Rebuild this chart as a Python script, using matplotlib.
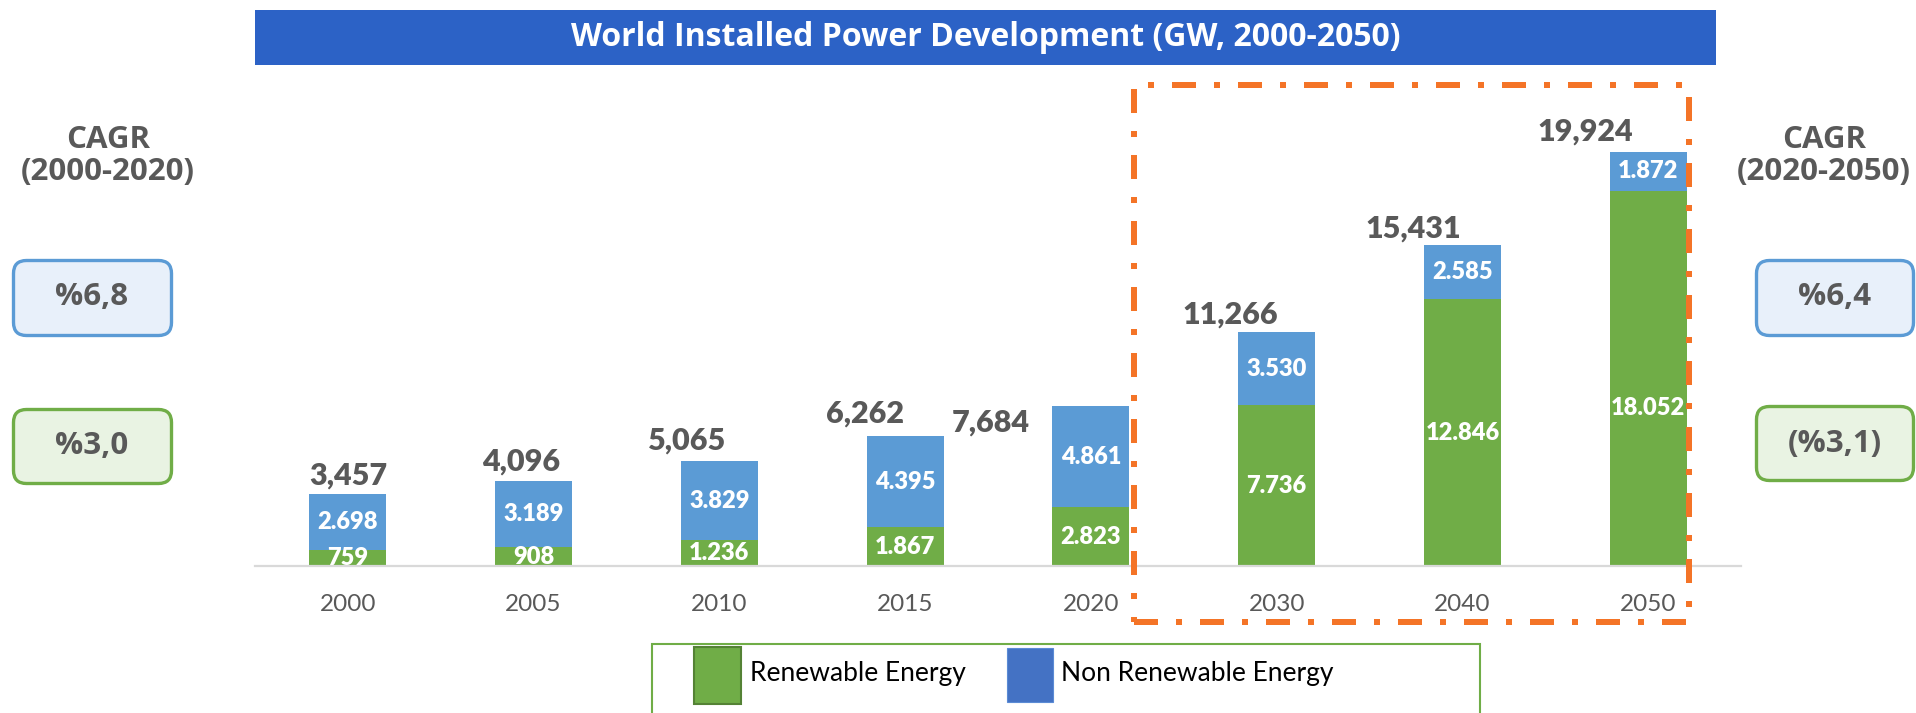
import matplotlib
matplotlib.use('Agg')
import matplotlib.pyplot as plt
from matplotlib.patches import Rectangle, FancyBboxPatch
from matplotlib.lines import Line2D

# ---------------- data ----------------
years = ['2000', '2005', '2010', '2015', '2020', '2030', '2040', '2050']
renewable = [759, 908, 1236, 1867, 2823, 7736, 12846, 18052]
non_renewable = [2698, 3189, 3829, 4395, 4861, 3530, 2585, 1872]
totals = [3457, 4096, 5065, 6262, 7684, 11266, 15431, 19924]
title = 'World Installed Power Development (GW, 2000-2050)'
cagr_left_title = 'CAGR\n(2000-2020)'
cagr_right_title = 'CAGR\n(2020-2050)'
cagr_left = ['%6,8', '%3,0']
cagr_right = ['%6,4', '(%3,1)']
legend_labels = ['Renewable Energy', 'Non Renewable Energy']

# ---------------- style / layout ----------------
GREEN = '#70AD47'
BLUE = '#5B9BD5'
LEG_BLUE = '#4472C4'
GRAY = '#595959'
ORANGE = '#F47427'
TITLE_BG = '#2C62C6'

# manual label offsets (pixels) for the total labels
total_dx = [0, -13, -32, -40, -100, -46, -49, -63]
total_dy = [19, 19, 20, 22, -16, 17, 17, 20]
green_dy = [0, 0, 0, 0, 0, 0, 0, -30]

W, H = 1916, 713
fig = plt.figure(figsize=(W / 100, H / 100), dpi=100)

ax = fig.add_axes([255 / W, (H - 566) / H, (1741 - 255) / W, 466 / H])
xs = list(range(len(years)))
bw = 0.415
ax.bar(xs, renewable, bw, color=GREEN, zorder=2)
ax.bar(xs, non_renewable, bw, bottom=renewable, color=BLUE, zorder=2)
ax.set_xlim(-0.5, 7.5)
ax.set_ylim(0, 22427)
ax.axhline(0, color='#D9D9D9', lw=1.6, zorder=3, clip_on=False)
for s in ax.spines.values():
    s.set_visible(False)
ax.set_yticks([])
ax.set_xticks(xs)
ax.set_xticklabels(years, fontfamily='Lato', fontsize=17.5, color=GRAY)
ax.tick_params(axis='x', length=0, pad=20)

def dotfmt(v):
    return f'{v:,}'.replace(',', '.')

for i in xs:
    r = renewable[i]
    n = non_renewable[i]
    ax.annotate(dotfmt(r), xy=(i, r / 2), xytext=(0, green_dy[i]),
                textcoords='offset pixels', ha='center', va='center',
                color='white', fontfamily='Lato', fontweight='heavy',
                fontsize=17, zorder=4, annotation_clip=False, clip_on=True)
    ax.annotate(dotfmt(n), xy=(i, r + n / 2), ha='center', va='center',
                color='white', fontfamily='Lato', fontweight='heavy',
                fontsize=17, zorder=4)
    ax.annotate(f'{totals[i]:,}', xy=(i, totals[i]),
                xytext=(total_dx[i], total_dy[i]), textcoords='offset pixels',
                ha='center', va='center', color=GRAY, fontfamily='Lato',
                fontweight='heavy', fontsize=22, zorder=4, annotation_clip=False)

# ---------------- overlay in pixel coordinates ----------------
ov = fig.add_axes([0, 0, 1, 1], zorder=5)
ov.set_xlim(0, W)
ov.set_ylim(H, 0)
ov.axis('off')
ov.patch.set_alpha(0)

# title bar
ov.add_patch(Rectangle((255, 10), 1716 - 255, 55, color=TITLE_BG, lw=0))
ov.text((255 + 1716) / 2, 38, title, ha='center', va='center', color='white',
        fontfamily='Open Sans', fontweight='bold', fontsize=23)

# CAGR titles
ov.text(108, 156, cagr_left_title, ha='center', va='center', color=GRAY,
        fontfamily='Open Sans', fontweight='bold', fontsize=22.5,
        linespacing=1.05)
ov.text(1824, 156, cagr_right_title, ha='center', va='center', color=GRAY,
        fontfamily='Open Sans', fontweight='bold', fontsize=22.5,
        linespacing=1.05)

# CAGR boxes
def cagr_box(x0, y0, w, h, edge, face, txt, tx, ty):
    ov.add_patch(FancyBboxPatch((x0, y0), w, h,
                                boxstyle='round,pad=0,rounding_size=13',
                                ec=edge, fc=face, lw=2.4))
    ov.text(tx, ty, txt, ha='center', va='center', color=GRAY,
            fontfamily='Open Sans', fontweight='bold', fontsize=22.5)

cagr_box(13.5, 260.5, 158, 75, BLUE, '#E8F0FA', cagr_left[0], 92, 297)
cagr_box(13.5, 409.5, 158, 74, GREEN, '#E9F3E3', cagr_left[1], 92, 446)
cagr_box(1756.5, 260.5, 157, 75, BLUE, '#E8F0FA', cagr_right[0], 1835, 297)
cagr_box(1756.5, 406.5, 157, 74, GREEN, '#E9F3E3', cagr_right[1], 1835, 444)

# orange dash-dot frame
lw_pt = 6 * 72 / 100
kw = dict(color=ORANGE, lw=lw_pt, solid_capstyle='butt', dash_capstyle='butt')
ov.add_line(Line2D([1148, 1690], [85, 85], dashes=(1, 3, 4, 3), **kw))
ov.add_line(Line2D([1134, 1134], [89, 622], dashes=(4, 3, 1, 3), **kw))
ov.add_line(Line2D([1689, 1689], [97, 622], dashes=(4, 3, 1, 3), **kw))
ov.add_line(Line2D([1134, 1690], [622, 622], dashes=(4, 3, 1, 3), **kw))

# legend box
ov.add_patch(Rectangle((652, 644), 1480 - 652, 90, fc='white', ec=GREEN, lw=1.5))
ov.add_patch(Rectangle((694, 647), 47, 57, fc=GREEN, ec='#548235', lw=1.5))
ov.text(750, 674, legend_labels[0], ha='left', va='center', color='black',
        fontfamily='Lato', fontsize=19)
ov.add_patch(Rectangle((1007, 648), 46, 54, fc=LEG_BLUE, ec='#5B8BD5', lw=0.8))
ov.text(1061, 674, legend_labels[1], ha='left', va='center', color='black',
        fontfamily='Lato', fontsize=19)

fig.savefig('out.png', dpi=100)
